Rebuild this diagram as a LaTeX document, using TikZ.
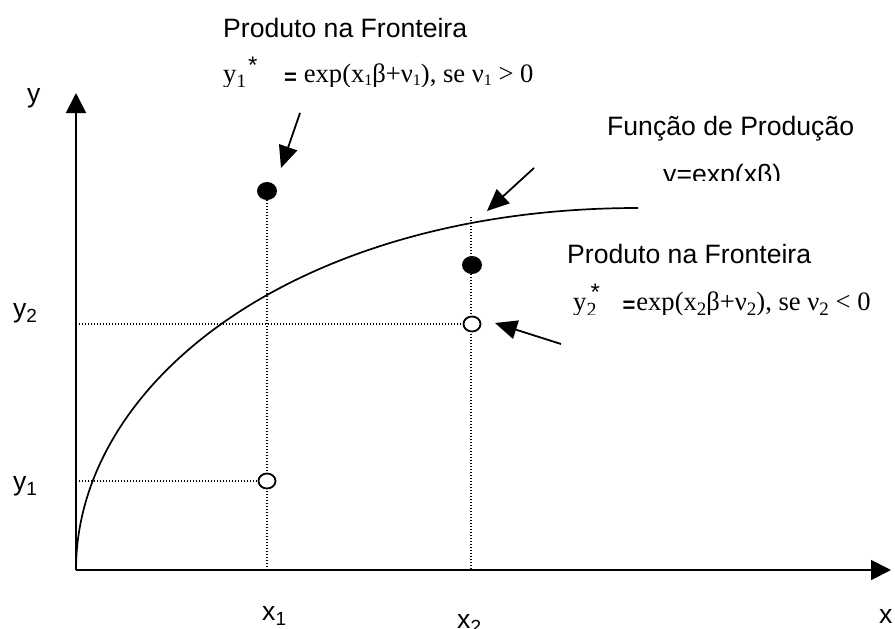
\documentclass[tikz,border=0pt]{standalone}
\usepackage{fontspec}
\setmainfont{Liberation Sans}
\newfontfamily\tnr{Liberation Serif}
\newfontfamily\arl{Liberation Sans}
\usetikzlibrary{arrows.meta,shapes.geometric}
\newcommand\lsub[1]{\raisebox{-5pt}{\fontsize{19}{19}\selectfont #1}}
\newcommand\fsub[1]{\raisebox{-3pt}{\fontsize{16}{16}\selectfont #1}}
\newcommand\astk[1]{\rlap{\raisebox{#1}{\arl\fontsize{24}{24}\selectfont *}}}
\begin{document}
\begin{tikzpicture}[x=1pt,y=-1pt,
  txt/.style={inner sep=0pt,anchor=base west,font=\fontsize{26.6}{30}\selectfont},
  axisline/.style={line width=1.8pt,-{Triangle[width=20pt,length=20pt]}},
  pointer/.style={line width=1.8pt,-{Triangle[width=19pt,length=22pt]}},
  guide/.style={line width=1.2pt,dash pattern=on 1.2pt off 1.8pt},
  solidpt/.style={ellipse,fill=black,inner sep=0pt,minimum width=20pt,minimum height=18pt},
  hollowpt/.style={ellipse,draw=black,fill=white,line width=1.8pt,inner sep=0pt,minimum width=17pt,minimum height=15pt},
  curveline/.style={line width=1.7pt}]
\useasboundingbox (0,0) rectangle (895,629);
% axes
\coordinate (O) at (76,570);
\coordinate (ytip) at (76,93);
\coordinate (xtip) at (891,570);
\coordinate (X1) at (267,570);
\coordinate (X2) at (471,570);
\coordinate (Y1) at (76,481);
\coordinate (Y2) at (76,324);
\coordinate (c2top) at (471,217);
\coordinate (cend) at (638,208);
% points
\node[solidpt] (f1) at (267,191) {};
\node[solidpt] (f2) at (472,265) {};
% guides
\draw[guide] (f1.south) -- (X1);
\draw[guide] (c2top) -- (X2);
\draw[guide] (Y2) -- (472,324);
\draw[guide] (Y1) -- (267,481);
\node[hollowpt] (h2) at (472,324) {};
\node[hollowpt] (h1) at (267,481) {};
% axes and curve
\draw[axisline] (O) -- (ytip);
\draw[axisline] (O) -- (xtip);
\draw[curveline] (O) .. controls (76,380) and (300,208) .. (cend);
% pointers
\coordinate (a1s) at (300,113);
\coordinate (a1e) at (281,168);
\coordinate (a2s) at (534,168);
\coordinate (a2e) at (487,211);
\coordinate (a3s) at (561,344);
\coordinate (a3e) at (495,323);
\draw[pointer] (a1s) -- (a1e);
\draw[pointer] (a2s) -- (a2e);
\draw[pointer] (a3s) -- (a3e);
% axis labels
\node[txt] (ly) at (27,102) {y};
\node[txt] (ly2) at (13,317) {y\lsub{2}};
\node[txt] (ly1) at (13,490) {y\lsub{1}};
\node[txt] (lx1) at (262,620) {x\lsub{1}};
\node[txt] (lx2) at (457,628) {x\lsub{2}};
\node[txt] (lx) at (879,623) {x};
% texts
\node[txt] (t1) at (223,37) {Produto na Fronteira};
\begin{scope}
\clip (215,45) rectangle (560,86.5);
\node[txt] (e1) at (223,82) {{\tnr y\lsub{1}}\hspace{2pt}\astk{9pt}\hspace{36pt}{\arl\bfseries\fontsize{22}{22}\selectfont\raisebox{-2pt}{=}}\hspace{7pt}{\tnr exp(x\fsub{1}β+ν\fsub{1}), se ν\fsub{1} > 0}};
\end{scope}
\node[txt] (t2) at (567,263) {Produto na Fronteira};
\begin{scope}
\clip (560,270) rectangle (895,314);
\node[txt] (e2) at (573,310) {{\tnr y}\rlap{\raisebox{-6pt}{\tnr\fontsize{20}{20}\selectfont 2}}\hspace{4pt}\astk{10pt}\hspace{32pt}{\arl\bfseries\fontsize{22}{22}\selectfont\raisebox{-2pt}{=}}\hspace{1pt}{\tnr exp(x\lsub{2}β+ν\lsub{2}), se ν\lsub{2} < 0}};
\end{scope}
\node[txt] (t3) at (607,135) {Função de Produção};
\begin{scope}
\clip (600,150) rectangle (895,180);
\node[txt] (t4) at (663,183) {y=exp(xβ)};
\end{scope}
\end{tikzpicture}
\end{document}
